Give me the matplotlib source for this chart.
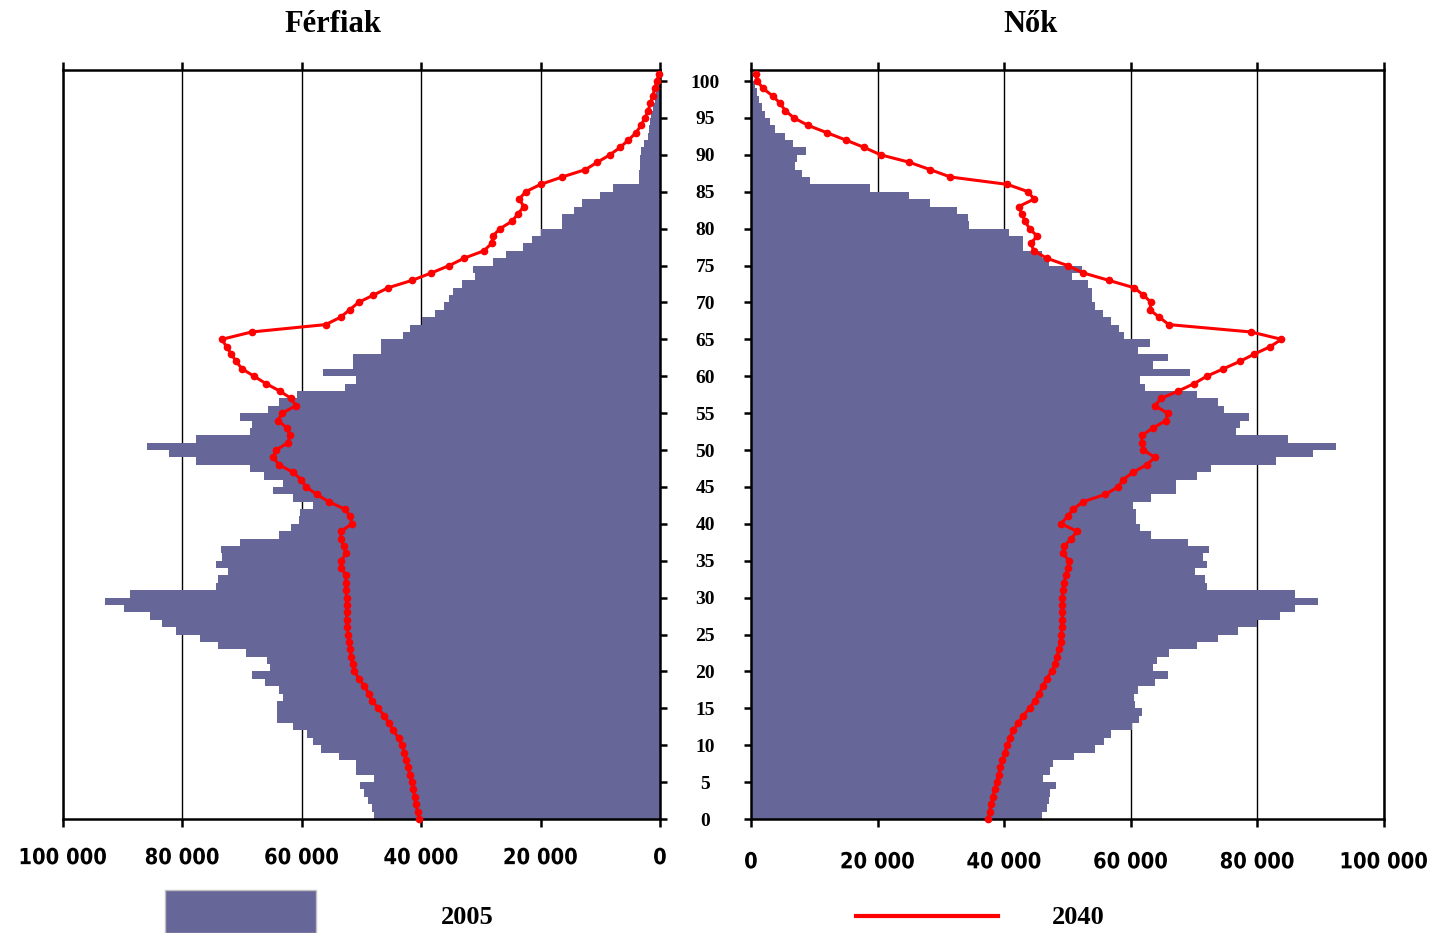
import matplotlib.pyplot as plt
from matplotlib.lines import Line2D
from matplotlib.patches import Rectangle
from matplotlib.patheffects import AbstractPathEffect
from matplotlib.transforms import Affine2D

# population by single year of age, in thousands
ages_2005 = list(range(0, 101))
ages_2040 = list(range(0, 102))

men_2005 = [47.9, 48.2, 48.9, 49.5, 50.2, 47.9, 50.9, 51.0, 53.8, 56.8,
            58.1, 59.1, 61.5, 64.1, 64.2, 64.2, 63.1, 63.8, 66.1, 68.4,
            65.4, 65.8, 69.4, 74.0, 77.0, 81.0, 83.4, 85.4, 89.8, 92.9,
            88.7, 74.4, 74.0, 72.4, 74.4, 73.4, 73.5, 70.4, 63.8, 61.8,
            60.5, 60.3, 58.1, 61.5, 64.8, 63.1, 66.4, 68.7, 77.7, 82.3,
            86.0, 77.7, 68.7, 68.4, 70.4, 65.6, 63.8, 60.8, 52.7, 50.9,
            56.5, 51.4, 51.4, 46.8, 46.8, 43.0, 41.9, 39.9, 37.7, 36.2,
            35.3, 34.6, 33.1, 31.0, 31.3, 28.0, 25.8, 23.0, 21.4, 19.9,
            16.4, 16.4, 14.4, 13.0, 10.1, 7.8, 3.6, 3.5, 3.4, 3.3,
            3.2, 2.6, 2.0, 1.8, 1.7, 1.5, 1.2, 0.9, 0.7, 0.5, 0.3]

women_2005 = [45.9, 46.8, 47.0, 47.2, 48.2, 46.2, 47.2, 47.7, 51.0, 54.3,
              55.8, 56.9, 60.2, 61.3, 61.7, 60.7, 60.5, 61.1, 63.8, 65.8,
              63.5, 64.1, 66.1, 70.4, 73.7, 77.0, 80.0, 83.6, 85.9, 89.5,
              85.9, 72.0, 71.7, 70.1, 72.0, 71.4, 72.4, 69.1, 63.2, 61.5,
              60.9, 60.9, 60.4, 63.2, 67.1, 67.1, 70.4, 72.7, 82.9, 88.8,
              92.4, 84.9, 76.6, 77.3, 78.6, 74.7, 73.7, 70.4, 62.2, 61.5,
              69.4, 63.5, 65.8, 61.2, 63.0, 58.9, 58.2, 56.9, 55.6, 54.3,
              53.8, 53.8, 53.3, 50.7, 52.3, 47.0, 46.0, 42.9, 42.9, 40.7,
              34.5, 34.3, 32.6, 28.3, 25.0, 18.8, 9.3, 8.0, 6.9, 7.2,
              8.7, 6.6, 5.3, 3.8, 3.0, 2.2, 1.8, 1.3, 1.0, 0.7, 0.3]

men_2040 = [40.3, 40.6, 40.9, 41.1, 41.3, 41.6, 41.9, 42.2, 42.5, 42.8,
            43.2, 43.8, 44.7, 45.4, 46.2, 47.2, 48.2, 48.8, 49.5, 50.4,
            51.2, 51.5, 51.7, 51.9, 52.1, 52.3, 52.4, 52.5, 52.5, 52.5,
            52.5, 52.6, 52.6, 52.6, 53.4, 53.4, 52.6, 53.0, 53.5, 53.4,
            51.6, 51.9, 52.8, 55.5, 57.5, 59.3, 60.1, 61.5, 63.8, 64.8,
            64.3, 62.3, 62.0, 62.5, 64.0, 63.3, 61.0, 61.8, 63.7, 66.0,
            68.0, 70.0, 71.0, 71.8, 72.6, 73.4, 68.4, 56.0, 53.5, 52.0,
            50.5, 48.0, 45.5, 41.5, 38.3, 35.3, 32.8, 29.5, 28.2, 28.0,
            26.8, 24.8, 23.8, 22.8, 23.6, 22.5, 20.0, 16.4, 12.5, 10.5,
            8.4, 6.7, 5.3, 4.0, 3.2, 2.5, 2.0, 1.6, 1.2, 0.9, 0.5, 0.2]

women_2040 = [37.5, 37.7, 37.9, 38.2, 38.5, 38.8, 39.1, 39.4, 39.7, 40.1,
              40.5, 40.9, 41.4, 42.2, 43.0, 44.0, 44.8, 45.5, 46.1, 46.7,
              47.5, 48.0, 48.3, 48.7, 48.9, 49.0, 49.1, 49.2, 49.2, 49.2,
              49.2, 49.3, 49.5, 49.7, 50.1, 50.2, 49.3, 49.5, 50.6, 51.5,
              49.0, 50.0, 50.9, 52.5, 56.0, 58.0, 58.8, 60.4, 62.5, 63.8,
              62.0, 61.7, 61.8, 63.5, 65.6, 65.8, 63.8, 64.8, 67.5, 70.0,
              72.0, 74.6, 77.2, 79.5, 82.0, 83.8, 79.0, 66.0, 64.5, 63.0,
              63.2, 62.0, 60.5, 56.5, 52.5, 50.0, 46.7, 44.7, 44.2, 45.2,
              44.0, 43.3, 42.8, 42.3, 44.7, 43.8, 40.5, 31.5, 28.3, 25.0,
              20.5, 17.9, 15.0, 12.0, 9.0, 6.8, 5.4, 4.6, 3.4, 1.9, 1.0, 0.8]

x_ticks = [0, 20, 40, 60, 80, 100]
x_labels = ['0', '20 000', '40 000', '60 000', '80 000', '100 000']
age_ticks = list(range(0, 101, 5))

BAR = '#666699'
SERIF = ['Liberation Serif', 'DejaVu Serif']


class Squeeze(AbstractPathEffect):
    # narrows glyphs horizontally around the text centre
    def __init__(self, sx):
        super().__init__()
        self.sx = sx

    def draw_path(self, renderer, gc, tpath, affine, rgbFace=None):
        ext = tpath.get_extents()
        cx = (ext.x0 + ext.x1) / 2
        t = Affine2D().translate(-cx, 0).scale(self.sx, 1).translate(cx, 0)
        renderer.draw_path(gc, tpath, t + affine, rgbFace)


W, H = 1436, 933
fig = plt.figure(figsize=(W / 100, H / 100), dpi=100)
ax_m = fig.add_axes([63 / W, 1 - 819 / H, 597 / W, 749 / H])
ax_f = fig.add_axes([751 / W, 1 - 819 / H, 633 / W, 749 / H])


def setup(ax, bars, line, pad):
    ax.set_axisbelow(True)
    ax.barh(ages_2005, bars, height=1.0, align='edge', color=BAR, linewidth=0)
    ax.plot(line, ages_2040, color='red', lw=2.2, marker='o', ms=4.5,
            clip_on=False, zorder=5)
    ax.set_ylim(0, 101.5)
    ax.set_xticks(x_ticks)
    labels = ax.set_xticklabels(x_labels, fontfamily='DejaVu Sans',
                                fontweight='bold', fontsize=16)
    for lab in labels:
        lab.set_path_effects([Squeeze(0.88)])
    ax.set_yticks(age_ticks)
    ax.grid(axis='x', color='black', lw=1.0)
    ax.tick_params(axis='x', top=True, direction='out', length=6, width=1.8, pad=pad)
    ax.tick_params(axis='y', direction='out', length=5, width=1.8)
    for s in ax.spines.values():
        s.set_linewidth(1.8)


setup(ax_m, men_2005, men_2040, 15)
ax_m.set_xlim(100, 0)
ax_m.yaxis.tick_right()
ax_m.tick_params(axis='y', labelright=False)

setup(ax_f, women_2005, women_2040, 18)
ax_f.set_xlim(0, 100)
ax_f.set_yticklabels([str(a) for a in age_ticks], fontfamily=SERIF,
                     fontweight='bold', fontsize=14, ha='center')
ax_f.tick_params(axis='y', pad=28)

fig.text(333 / W, 1 - 25 / H, 'Férfiak', ha='center', va='center',
         fontfamily=SERIF, fontweight='bold', fontsize=22)
fig.text(1031 / W, 1 - 25 / H, 'Nők', ha='center', va='center',
         fontfamily=SERIF, fontweight='bold', fontsize=22)

# legend
fig.add_artist(Rectangle((165 / W, 0), 151 / W, 43 / H, transform=fig.transFigure,
                         facecolor=BAR, edgecolor='#c0c0c0', lw=1))
fig.text(467 / W, 1 - 917 / H, '2005', ha='center', va='center',
         fontfamily=SERIF, fontweight='bold', fontsize=19)
fig.add_artist(Line2D([856 / W, 998 / W], [1 - 916 / H, 1 - 916 / H],
                      transform=fig.transFigure, color='red', lw=3))
fig.text(1078 / W, 1 - 917 / H, '2040', ha='center', va='center',
         fontfamily=SERIF, fontweight='bold', fontsize=19)

fig.savefig('out.png', dpi=100)
